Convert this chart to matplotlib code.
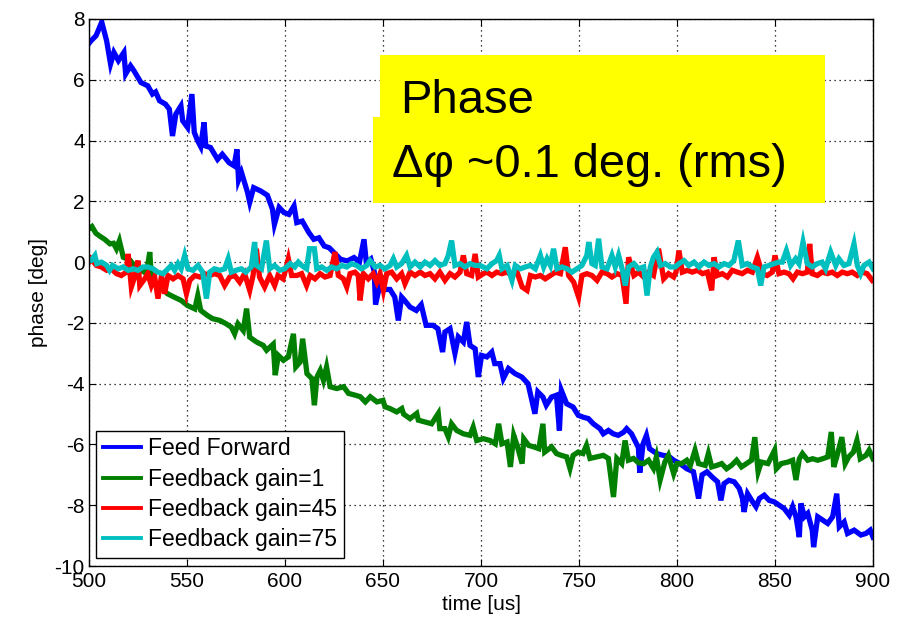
import matplotlib
matplotlib.use("Agg")
import matplotlib.pyplot as plt
from matplotlib.patches import Rectangle

plt.rcParams['font.family'] = ['Liberation Sans', 'DejaVu Sans']
plt.rcParams['axes.unicode_minus'] = False

# ---------------- data ----------------
ff_t = [500, 501, 503.6, 506.5, 509, 511, 512.7, 515, 517.8, 518.7, 521.2, 523, 526.5, 530, 532.4, 534,
        536, 539, 541, 542.6, 544.3, 546.9, 547.8, 550.3, 552.5, 553.7, 555.4, 557, 558.7, 559.6, 562,
        565.6, 568, 571.5, 574, 575.5, 576.3, 577.8, 580.9, 582, 584, 587.6, 591, 593.6, 594.6, 597,
        599.5, 602, 604.6, 606, 608.8, 612.2, 614.7, 617.3, 620, 622.6, 625, 628.4, 631.8, 635.2, 638,
        640.3, 641.5, 643.8, 645.5, 646.2, 648.5, 651, 653.6, 656, 657.8, 659.5, 661, 663.8, 667, 669.5,
        672, 675.5, 678, 680.4, 681.6, 684.2, 686.7, 688.4, 691, 692.7, 694.4, 697, 698.6, 700.3, 703,
        705.5, 707, 709.7, 711.4, 714, 717.4, 720.8, 724, 727.5, 729, 731.6, 733.3, 736, 738.5, 740,
        741, 743.7, 747, 749.6, 752, 754.8, 757.3, 760.7, 762.4, 765, 767.5, 770, 772.7, 774.3, 776.8,
        780.3, 781, 782.7, 784.4, 786, 789.6, 793, 795.6, 798.3, 801.5, 805, 808.4, 811, 812.8, 815.3,
        817.9, 820.7, 822.4, 824, 826.5, 829.2, 831.8, 833.4, 834.2, 836, 838.6, 840.3, 842, 844.5, 847,
        849.6, 852.2, 854.7, 857.3, 859, 860.7, 862.4, 863.2, 865, 866.7, 869, 869.7, 871.8, 874.3,
        876.9, 879.4, 881.5, 882.8, 885.3, 887, 890.4, 893.8, 896.4, 898.6, 900]
ff_v = [7.2, 7.28, 7.45, 7.9, 7.28, 6.52, 6.9, 6.63, 6.9, 6.19, 6.46, 6.29, 5.91, 5.8, 5.53, 5.6,
        5.31, 5.2, 5.03, 4.15, 4.87, 5.14, 4.65, 4.43, 5.53, 4.27, 4.0, 3.8, 4.6, 3.82, 3.77,
        3.38, 3.55, 3.27, 3.17, 3.71, 2.7, 2.95, 2.29, 1.97, 2.45, 2.34, 2.2, 1.74, 1.24, 1.8,
        1.63, 1.57, 1.85, 1.3, 1.35, 0.97, 0.75, 0.8, 0.53, 0.47, 0.31, 0.09, 0.04, 0.15, 0.0,
        0.75, -0.02, 0.1, -0.3, -1.4, -0.71, -0.9, -0.9, -1.15, -1.92, -1.15, -1.26, -1.48, -1.59, -1.4,
        -2.08, -2.08, -2.19, -2.96, -2.3, -2.19, -3.0, -2.46, -2.63, -1.97, -2.74, -2.85, -3.78, -3.07, -3.12,
        -2.96, -3.34, -3.34, -3.83, -3.5, -3.67, -3.78, -4.0, -4.99, -4.27, -4.44, -4.71, -4.44, -4.38, -5.54,
        -4.22, -4.66, -4.77, -5.04, -5.1, -5.15, -5.32, -5.48, -5.65, -5.54, -5.65, -5.7, -5.6, -5.48, -5.65,
        -6.1, -6.93, -5.98, -5.7, -6.14, -6.3, -6.36, -6.38, -6.52, -6.63, -6.8, -6.9, -7.78, -7.0, -6.9,
        -7.07, -7.23, -7.84, -7.29, -7.18, -7.23, -7.45, -7.78, -8.22, -7.62, -7.89, -8.05, -7.78, -7.67, -7.84,
        -7.89, -8.0, -8.11, -8.33, -8.05, -8.38, -9.05, -7.94, -8.38, -8.27, -8.82, -9.38, -8.38, -8.49,
        -8.6, -8.38, -7.62, -8.71, -8.55, -8.93, -8.82, -8.98, -8.93, -8.82, -9.05]

fb1_t = [500, 501.5, 503.5, 505.6, 508, 510.7, 512.5, 514, 515.5, 517.5, 521, 523.6, 526.8, 529.3, 531,
         531.8, 534, 537.4, 540, 543.4, 547, 550.3, 554, 555.5, 557, 560.3, 563, 566.8, 570, 572.6, 574.3,
         576, 578.7, 580.4, 582, 585.5, 588.9, 590.6, 594, 595, 596.6, 599.2, 601.7, 604.3, 605.5, 607.7,
         609, 611.2, 613.7, 615, 616.3, 618, 619.6, 621.2, 623, 626.4, 629.9, 632.4, 635.9, 638.4, 641,
         643.5, 646.9, 650, 651, 653.6, 657, 659.6, 660.5, 663.8, 667.2, 668, 671.5, 674.8, 678.2, 679,
         681.6, 683.3, 685, 687.6, 691, 694.4, 696, 697.8, 701.2, 704.6, 707.3, 709, 710.7, 713.3, 715,
         716.7, 718.4, 721, 721.8, 724.3, 726.9, 729.5, 731.6, 732.5, 736, 738.5, 741, 743.7, 745.4, 747,
         749.6, 752, 753.8, 755.6, 759, 762.4, 765, 767.6, 769.3, 771.8, 773.5, 775.2, 777.8, 780.3, 783,
         785.5, 788, 789.5, 791.4, 793.8, 795.6, 798.3, 800, 802.4, 805, 806.8, 809.2, 811, 814.4, 816,
         817.7, 820.3, 822.8, 825.3, 827.8, 830.4, 832.9, 835.5, 838, 839.7, 841.4, 843, 846.4, 849.8,
         850.7, 853.2, 856.6, 859, 860.7, 862.4, 864, 866.7, 869.2, 871.8, 874.3, 876.9, 878.7, 880,
         881.5, 884.1, 885.8, 887.6, 890, 891.8, 893.5, 896.4, 898, 900]
fb1_v = [1.1, 1.17, 0.95, 0.85, 0.75, 0.6, 0.62, 0.44, 0.7, 0.16, 0.06, -0.16, -0.27, -0.38, 0.33,
         -0.49, -0.71, -0.87, -1.04, -1.15, -1.26, -1.43, -1.54, -1.1, -1.59, -1.75, -1.86, -1.92, -2.03, -2.14, -2.36,
         -2.03, -2.25, -1.53, -2.47, -2.63, -2.74, -2.9, -2.7, -3.72, -3.07, -3.23, -3.12, -2.36, -3.45, -3.29,
         -2.52, -3.67, -3.83, -4.71, -3.78, -3.56, -3.89, -3.45, -4.1, -4.16, -4.1, -4.32, -4.38, -4.43, -4.6,
         -4.43, -4.6, -4.55, -4.76, -4.82, -4.93, -4.82, -5.0, -5.15, -4.98, -5.2, -5.26, -5.32, -4.98, -5.48,
         -5.48, -5.75, -5.32, -5.54, -5.65, -5.7, -5.43, -5.87, -5.81, -5.87, -5.98, -5.32, -5.98, -5.92, -6.74,
         -5.7, -6.03, -6.63, -5.81, -6.03, -6.08, -6.14, -5.32, -6.25, -6.08, -6.3, -6.36, -6.41, -6.79, -6.36,
         -6.25, -6.3, -6.03, -6.46, -6.41, -6.36, -6.46, -7.73, -6.46, -6.63, -5.87, -6.52, -6.46, -6.6, -6.63,
         -6.52, -6.79, -6.41, -7.17, -6.58, -6.36, -6.96, -6.63, -6.63, -6.52, -6.69, -6.19, -6.63, -6.69, -6.3,
         -6.74, -6.69, -6.63, -6.8, -6.69, -6.52, -6.74, -6.63, -6.52, -5.76, -6.9, -6.58, -6.63, -6.19,
         -6.8, -6.63, -6.58, -6.52, -7.17, -6.47, -6.3, -6.52, -6.47, -6.52, -6.47, -6.41, -5.59, -6.74,
         -6.41, -5.76, -6.63, -6.41, -6.25, -5.87, -6.47, -6.36, -6.19, -6.47]

fb45_t = [500, 501, 503.8, 506.3, 509, 511.4, 514, 516.5, 519, 520, 521.6, 523.3, 525, 525.9, 528.4, 530,
          531.8, 533.5, 535.2, 537, 538.6, 540.3, 542.9, 545.4, 548, 549.7, 551.4, 554, 556.5, 559, 561.6,
          564, 566.7, 569.2, 571.8, 574.3, 576.9, 579.4, 582, 583.7, 585.4, 587, 589.6, 592.2, 594.7, 596.4,
          599, 600, 601.7, 603.4, 606, 608.5, 611, 612.8, 615.3, 617.9, 620.4, 623, 625.5, 627.2, 629.8,
          631.5, 633.2, 635.7, 637.4, 638.3, 640, 642.5, 645, 646.8, 648.5, 650.2, 651.9, 654.4, 657, 659.5,
          661.2, 663.8, 666.3, 669, 671.4, 674, 676.5, 679, 681.6, 684.2, 686.7, 689.3, 691, 692.7, 695.2,
          697, 698.6, 701.2, 703, 705.6, 708, 710.7, 713.3, 715.8, 718.4, 721, 723.5, 725.2, 727.7, 730.3,
          732.8, 735.4, 738, 740.5, 743, 744.7, 747.3, 749.8, 751.5, 754, 756.6, 759.2, 761.7, 764.3, 766.8,
          769.4, 772, 774, 775.3, 778, 780.4, 783, 785.5, 788, 790.6, 793.2, 795.7, 798.3, 799.5, 801,
          802.7, 805.3, 807.8, 810.4, 813, 815.5, 817.7, 818.9, 820.6, 823.1, 825.7, 828.2, 830.8, 833.3,
          835.9, 838.4, 841, 843.5, 846, 848.6, 850, 852, 854.6, 857.1, 859.2, 861.4, 864, 866.5, 867.7,
          869, 871.6, 874, 876.7, 879.2, 881.8, 884.3, 886.9, 889.4, 892, 894.5, 897, 899.6]
fb45_v = [0.0, 0.11, -0.11, -0.16, -0.27, -0.22, -0.38, -0.44, -0.33, 0.27, -0.82, -0.49, 0.05, -0.77, -0.55, -0.38,
          -0.77, -0.49, -1.2, -0.44, -1.04, -0.44, -0.55, -0.44, -0.55, -1.04, -0.6, -0.44, -0.49, -0.38, -0.44,
          -0.38, -0.44, -0.77, -0.49, -0.44, -0.66, -0.38, -0.93, -0.44, 0.44, -0.49, -0.82, -0.44, -0.77, -0.44,
          -0.55, -0.33, 0.11, -0.44, -0.44, -0.38, -0.77, -0.44, -0.55, -0.38, -0.49, -0.44, 0.33, -0.44, -0.55,
          -0.82, -0.38, -0.33, -0.44, -1.26, -0.38, -0.55, -0.38, -0.66, -0.38, -0.93, -0.38, -0.33, -0.55, -0.38,
          -0.71, -0.33, -0.44, -0.33, -0.44, -0.38, -0.55, -0.33, -0.6, -0.38, -0.49, -0.33, 0.22, -0.38, -0.44,
          0.27, -0.49, -0.38, -0.33, -0.44, -0.33, -0.38, -0.33, -0.44, -0.33, -0.82, -0.93, -0.44, -0.49, -0.44,
          -0.55, -0.44, -0.33, -0.38, 0.49, -0.44, -0.66, -1.15, -0.44, -0.38, -0.44, -0.6, -0.33, -0.38, -0.49,
          -0.38, -0.44, -1.37, 0.16, -0.44, -0.33, -0.49, -0.33, -0.44, 0.44, -0.55, -0.38, -0.49, -0.33, 0.38,
          -0.33, -0.27, -0.33, -0.27, -0.38, -0.33, -0.93, 0.16, -0.44, -0.38, -0.49, -0.27, -0.33, -0.38,
          -0.27, -0.33, 0.16, -0.38, -0.44, -0.33, 0.22, -0.38, -0.33, -0.38, -0.55, -0.33, -0.38, -0.33, 0.6,
          -0.38, -0.44, -0.33, -0.38, -0.33, -0.44, -0.33, -0.38, -0.33, -0.44, -0.33, -0.38, -0.6]

fb75_t = [500, 501, 503, 504, 506.3, 509, 510.5, 512, 515, 517.4, 520, 522.5, 525, 527.5, 530, 532.7,
          535, 537.8, 540.3, 542, 543.7, 545.4, 547, 548.8, 550.5, 553, 555.6, 558, 559.9, 561.6, 564,
          566.7, 569.2, 571, 572.6, 575, 577.7, 580, 582.8, 584.5, 585.4, 588, 590.5, 592.2, 594.7, 597.3,
          599.8, 602.6, 605, 606.8, 608.5, 611, 612.5, 615, 616.2, 618.7, 621.3, 623.8, 626.4, 629, 631.5,
          634, 636.6, 639, 641.7, 643.4, 646, 648.5, 651, 653.6, 655.3, 657, 659.5, 662, 663.8, 666.3,
          669, 671.4, 674, 676.5, 679, 681.6, 683.3, 685, 686.7, 689.3, 691.8, 694.4, 697, 699.5, 703,
          705.6, 708, 709.3, 710.7, 713.3, 715.8, 717.5, 720, 722.6, 725.2, 727.7, 730.3, 732, 733.7, 735.4,
          737, 738.8, 741.3, 743.9, 746.4, 749, 751.5, 754, 755, 756.6, 758.3, 760, 761.7, 764.3, 766.8,
          768.5, 770.2, 772, 773.6, 775.3, 778, 780.4, 783, 784.7, 786.4, 788, 789.8, 791.5, 794, 796.6,
          799.1, 801, 803.6, 806, 808.7, 811.2, 813.8, 816.3, 818.9, 821.4, 824, 826.5, 829, 831.3, 833.3,
          835.9, 838.4, 841, 842.7, 844.4, 847, 849.5, 852, 853.7, 855.8, 858, 860.5, 862.2, 864.3, 866.5,
          869, 871.6, 874, 875.8, 878.4, 881, 882.6, 885.2, 887.7, 890.3, 892, 893.7, 895.4, 898, 900]
fb75_v = [0.05, 0.05, 0.22, -0.05, 0.0, -0.11, -0.27, -0.11, -0.22, -0.16, -0.27, -0.22, -0.27, -0.16, -0.16, -0.22,
          -0.33, -0.38, -0.22, -0.11, -0.27, -0.05, -0.22, 0.22, -0.22, -0.27, -0.11, -0.33, -1.2, -0.33, -0.22,
          -0.27, -0.22, 0.11, -0.33, -0.27, -0.22, -0.33, -0.16, 0.66, -0.11, -0.22, 0.71, -0.22, -0.11, -0.27,
          -0.22, -0.05, -0.16, 0.0, -0.11, -0.22, 0.44, 0.44, -0.22, -0.16, -0.27, -0.16, -0.22, -0.11, -0.16,
          -0.05, -0.11, -0.22, -0.11, 0.05, -0.16, -0.11, -0.22, -0.11, 0.11, -0.16, -0.05, 0.22, -0.16, 0.0,
          -0.16, 0.0, -0.11, 0.05, -0.11, -0.05, 0.22, 0.71, -0.11, -0.05, -0.16, -0.05, -0.11, -0.11, -0.22,
          -0.05, 0.05, 0.22, -0.22, -0.11, -0.6, -0.11, -0.22, -0.16, -0.11, -0.22, 0.22, -0.16, 0.11, -0.11,
          0.44, -0.22, -0.16, -0.22, -0.33, -0.22, -0.11, 0.22, 0.66, -0.05, -0.11, 0.77, -0.16, -0.22, 0.22,
          -0.16, 0.22, -0.22, -0.77, -0.16, -0.05, -0.22, -0.16, -1.1, -0.16, 0.16, 0.33, -0.11, -0.05, -0.16,
          -0.16, -0.05, 0.05, -0.11, 0.0, -0.16, 0.0, -0.11, -0.05, -0.16, -0.05, -0.11, 0.05, 0.71, -0.11,
          -0.05, -0.16, -0.22, -0.77, -0.16, -0.11, -0.05, 0.0, 0.0, 0.38, -0.11, 0.11, -0.05, 0.66, -0.05,
          -0.16, -0.05, 0.0, -0.22, 0.33, -0.11, 0.11, -0.11, -0.05, 0.6, -0.11, -0.38, -0.11, 0.0, -0.22]

labels = ['Feed Forward', 'Feedback gain=1', 'Feedback gain=45', 'Feedback gain=75']
colors = ['#0000ff', '#007f00', '#ff0000', '#00bfbf']
x_ticks = [500, 550, 600, 650, 700, 750, 800, 850, 900]
y_ticks = [-10, -8, -6, -4, -2, 0, 2, 4, 6, 8]

# ---------------- figure ----------------
W, H = 910, 622
fig = plt.figure(figsize=(W / 100, H / 100), dpi=100)
ax = fig.add_axes([89 / W, 1 - 566 / H, (873 - 89) / W, (566 - 19) / H])

series = [(ff_t, ff_v), (fb1_t, fb1_v), (fb45_t, fb45_v), (fb75_t, fb75_v)]
for (t, v), c, lab in zip(series, colors, labels):
    ax.plot(t, v, color=c, lw=3.8, label=lab, solid_joinstyle='miter')

ax.set_xlim(500, 900)
ax.set_ylim(-10, 8)
ax.set_xticks(x_ticks)
ax.set_yticks(y_ticks)
ax.tick_params(direction='in', top=True, right=True, length=5, width=0.8,
               labelsize=15, pad=3)
ax.tick_params(axis='x', pad=4)
ax.grid(True, color='black', linestyle=(0, (1, 3)), linewidth=0.9)
for s in ax.spines.values():
    s.set_linewidth(1.0)
ax.set_xlabel('time [us]', fontsize=15, labelpad=3)
ax.set_ylabel('phase [deg]', fontsize=15, labelpad=5)

leg = ax.legend(loc='lower left', bbox_to_anchor=(0.0095, 0.014), borderaxespad=0,
                fontsize=16.5, fancybox=False, framealpha=1, edgecolor='black',
                handlelength=1.65, handletextpad=0.3, labelspacing=0.32, borderpad=0.3)
leg.get_frame().set_linewidth(1.0)
for ln in leg.get_lines():
    ln.set_linewidth(2.8)

# yellow annotation box
fig.add_artist(Rectangle((380 / W, 1 - 118 / H), (825 - 380) / W, (118 - 55) / H,
                         transform=fig.transFigure, facecolor='#ffff00', edgecolor='none', zorder=5))
fig.add_artist(Rectangle((373 / W, 1 - 203 / H), (825 - 373) / W, (203 - 117) / H,
                         transform=fig.transFigure, facecolor='#ffff00', edgecolor='none', zorder=5))
fig.text(400 / W, 1 - 113 / H, 'Phase', fontsize=34, va='baseline', ha='left', zorder=6)
fig.text(392 / W, 1 - 177 / H, '\u0394\u03c6 ~0.1 deg. (rms)', fontsize=33.8, va='baseline',
         ha='left', zorder=6)

fig.savefig('out.png', dpi=100, facecolor='white')
